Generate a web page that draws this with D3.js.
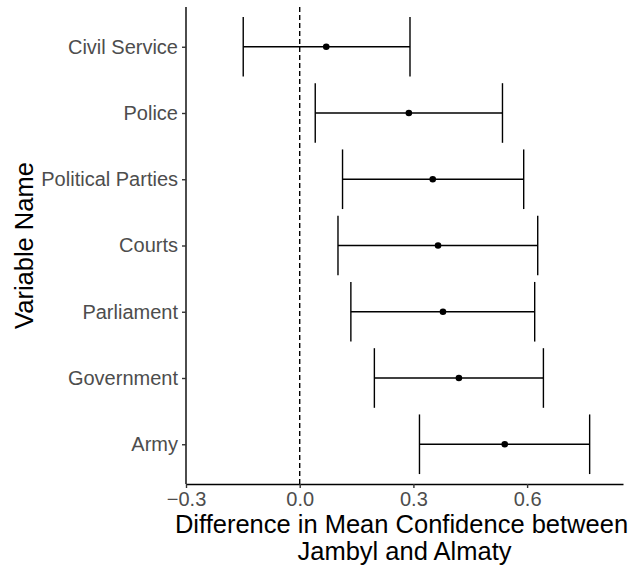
<!DOCTYPE html>
<html>
<head>
<meta charset="utf-8">
<script src="https://cdn.jsdelivr.net/npm/d3@7"></script>
<style>
  body { margin: 0; background: #fff; }
  svg { display: block; font-family: "Liberation Sans", Arial, sans-serif; }
</style>
</head>
<body>
<svg id="chart" width="632" height="566"></svg>
<script>
// Variables listed top to bottom
const variables = ['Civil Service', 'Police', 'Political Parties', 'Courts', 'Parliament', 'Government', 'Army'];
const estimates = [0.070, 0.288, 0.351, 0.365, 0.378, 0.420, 0.541];
const lowerCI = [-0.149, 0.041, 0.113, 0.101, 0.135, 0.197, 0.316];
const upperCI = [0.291, 0.535, 0.591, 0.628, 0.620, 0.643, 0.765];
const xTicks = [-0.3, 0.0, 0.3, 0.6];

const data = variables.map((v, i) => ({ name: v, est: estimates[i], lo: lowerCI[i], hi: upperCI[i] }));

const svg = d3.select('#chart');
const margin = { top: 7, right: 9, bottom: 82, left: 186 };
const width = +svg.attr('width');
const height = +svg.attr('height');

const xScale = d3.scaleLinear()
    .domain([-0.3, 0.853])
    .range([margin.left, width - margin.right]);

const yScale = d3.scalePoint()
    .domain(variables)
    .range([margin.top, height - margin.bottom])
    .padding(0.6);

const capHalf = yScale.step() * 0.45;
const lw = 1.4;

// Reference line at zero
svg.append('line')
    .attr('x1', xScale(0)).attr('x2', xScale(0))
    .attr('y1', margin.top).attr('y2', height - margin.bottom)
    .attr('stroke', '#000')
    .attr('stroke-width', lw)
    .attr('stroke-dasharray', '5,3');

// Error bars
const bars = svg.append('g').attr('stroke', '#000').attr('stroke-width', lw);

bars.selectAll('.hline')
    .data(data)
    .enter().append('line')
    .attr('x1', d => xScale(d.lo)).attr('x2', d => xScale(d.hi))
    .attr('y1', d => yScale(d.name)).attr('y2', d => yScale(d.name));

bars.selectAll('.capl')
    .data(data)
    .enter().append('line')
    .attr('x1', d => xScale(d.lo)).attr('x2', d => xScale(d.lo))
    .attr('y1', d => yScale(d.name) - capHalf).attr('y2', d => yScale(d.name) + capHalf);

bars.selectAll('.caph')
    .data(data)
    .enter().append('line')
    .attr('x1', d => xScale(d.hi)).attr('x2', d => xScale(d.hi))
    .attr('y1', d => yScale(d.name) - capHalf).attr('y2', d => yScale(d.name) + capHalf);

// Point estimates
svg.append('g').selectAll('circle')
    .data(data)
    .enter().append('circle')
    .attr('cx', d => xScale(d.est))
    .attr('cy', d => yScale(d.name))
    .attr('r', 3.3)
    .attr('fill', '#000');

// Axes
const xAxis = d3.axisBottom(xScale)
    .tickValues(xTicks)
    .tickFormat(d3.format('.1f'))
    .tickSize(4)
    .tickPadding(4)
    .tickSizeOuter(0);

const yAxis = d3.axisLeft(yScale)
    .tickSize(4)
    .tickPadding(4)
    .tickSizeOuter(0);

const gx = svg.append('g')
    .attr('transform', `translate(0,${height - margin.bottom})`)
    .call(xAxis);

const gy = svg.append('g')
    .attr('transform', `translate(${margin.left},0)`)
    .call(yAxis);

gy.select('.domain').attr('d', `M0,${margin.top}V${height - margin.bottom}`);

[gx, gy].forEach(g => {
    g.select('.domain').attr('stroke', '#000').attr('stroke-width', lw);
    g.selectAll('.tick line').attr('stroke', '#333').attr('stroke-width', lw);
    g.selectAll('.tick text')
        .attr('fill', '#4d4d4d')
        .style('font-size', '20px')
        .style('font-family', '"Liberation Sans", Arial, sans-serif');
});

// Axis titles
const xTitle = svg.append('text')
    .attr('text-anchor', 'middle')
    .attr('fill', '#000')
    .style('font-size', '25.5px');
const cx = (margin.left + width - margin.right) / 2 - 3;
xTitle.append('tspan').attr('x', cx).attr('y', 533).text('Difference in Mean Confidence between');
xTitle.append('tspan').attr('x', cx + 3).attr('y', 560).text('Jambyl and Almaty');

svg.append('text')
    .attr('text-anchor', 'middle')
    .attr('fill', '#000')
    .style('font-size', '25.5px')
    .attr('transform', `translate(33,${(margin.top + height - margin.bottom) / 2}) rotate(-90)`)
    .text('Variable Name');
</script>
</body>
</html>
